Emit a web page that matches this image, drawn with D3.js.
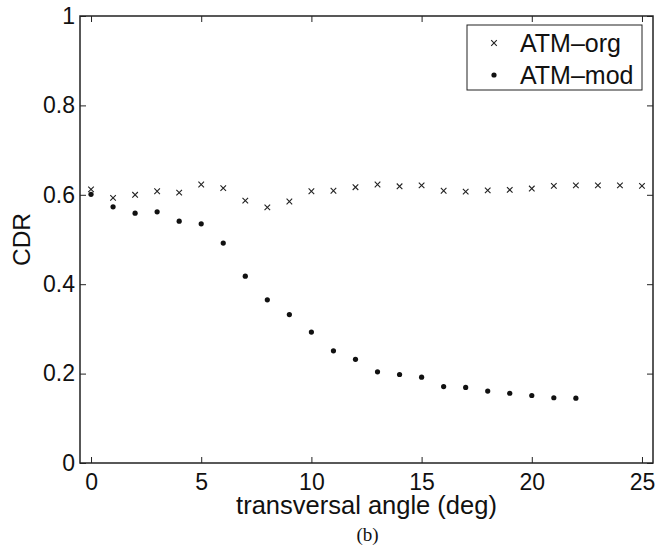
<!DOCTYPE html>
<html>
<head>
<meta charset="utf-8">
<script src="https://cdn.jsdelivr.net/npm/d3@7"></script>
<style>
  body { margin: 0; background: #fff; }
  svg { display: block; }
  text { font-family: "Liberation Sans", Arial, Helvetica, sans-serif; fill: #111; }
</style>
</head>
<body>
<svg id="chart"></svg>
<script>
// transversal angle (deg)
const angles = d3.range(0, 26);
// CDR for ATM-org (crosses), one per angle 0..25
const atmOrg = [0.612, 0.593, 0.600, 0.608, 0.605, 0.623, 0.615, 0.587, 0.572, 0.585,
  0.608, 0.609, 0.617, 0.623, 0.619, 0.621, 0.609, 0.607, 0.610, 0.611,
  0.614, 0.620, 0.621, 0.621, 0.621, 0.620];
// CDR for ATM-mod (dots), angles 0..22
const atmMod = [0.601, 0.573, 0.559, 0.562, 0.541, 0.535, 0.492, 0.418, 0.365, 0.332,
  0.293, 0.251, 0.232, 0.204, 0.198, 0.192, 0.171, 0.169, 0.161, 0.156,
  0.151, 0.146, 0.145];
const xTicks = [0, 5, 10, 15, 20, 25];
const yTicks = [0, 0.2, 0.4, 0.6, 0.8, 1];
const seriesNames = ["ATM\u2013org", "ATM\u2013mod"];

const svgWidth = 656;
const svgHeight = 551;
const margin = { top: 16, right: 3, bottom: 88, left: 80 };
const width = svgWidth - margin.left - margin.right;
const height = svgHeight - margin.top - margin.bottom;

const svg = d3.select("#chart")
  .attr("width", svgWidth)
  .attr("height", svgHeight);

const g = svg.append("g")
  .attr("transform", "translate(" + margin.left + "," + margin.top + ")");

const x = d3.scaleLinear().domain([-0.5, 25.5]).range([0, width]);
const y = d3.scaleLinear().domain([0, 1]).range([height, 0]);

const tickLen = 6;
const yFmt = (d) => String(+d.toFixed(1));

// bottom axis with labels
const xAxis = g.append("g")
  .attr("transform", "translate(0," + height + ")")
  .call(d3.axisBottom(x).tickValues(xTicks).tickSize(-tickLen).tickPadding(11));
// top axis, ticks only
const xTop = g.append("g")
  .call(d3.axisTop(x).tickValues(xTicks).tickSize(-tickLen).tickFormat(""));
// left axis with labels
const yAxis = g.append("g")
  .call(d3.axisLeft(y).tickValues(yTicks).tickSize(-tickLen).tickPadding(5).tickFormat(yFmt));
// right axis, ticks only
const yRight = g.append("g")
  .attr("transform", "translate(" + width + ",0)")
  .call(d3.axisRight(y).tickValues(yTicks).tickSize(-tickLen).tickFormat(""));

[xAxis, xTop, yAxis, yRight].forEach((a) => {
  a.select(".domain").remove();
  a.selectAll(".tick line").attr("stroke", "#222").attr("stroke-width", 1);
});
xAxis.selectAll(".tick text").attr("font-size", 23).style("fill", "#111");
yAxis.selectAll(".tick text").attr("font-size", 23).style("fill", "#111");

// box
g.append("rect")
  .attr("x", 0).attr("y", 0)
  .attr("width", width).attr("height", height)
  .attr("fill", "none")
  .attr("stroke", "#222")
  .attr("stroke-width", 1.5);

// cross marker
function cross(sel, s) {
  sel.append("path")
    .attr("d", "M" + -s + "," + -s + "L" + s + "," + s + "M" + -s + "," + s + "L" + s + "," + -s)
    .attr("stroke", "#222")
    .attr("stroke-width", 1.1)
    .attr("fill", "none");
}

const orgData = atmOrg.map((v, i) => ({ a: angles[i], v: v }));
const modData = atmMod.map((v, i) => ({ a: angles[i], v: v }));

g.selectAll(".org")
  .data(orgData)
  .enter()
  .append("g")
  .attr("class", "org")
  .attr("transform", (d) => "translate(" + x(d.a) + "," + y(d.v) + ")")
  .each(function () { cross(d3.select(this), 2.8); });

g.selectAll(".mod")
  .data(modData)
  .enter()
  .append("circle")
  .attr("class", "mod")
  .attr("cx", (d) => x(d.a))
  .attr("cy", (d) => y(d.v))
  .attr("r", 2.6)
  .attr("fill", "#111");

// legend
const legend = svg.append("g").attr("transform", "translate(467,25)");
legend.append("rect")
  .attr("width", 175).attr("height", 65)
  .attr("fill", "#fff")
  .attr("stroke", "#222")
  .attr("stroke-width", 1);
const lg0 = legend.append("g").attr("transform", "translate(27,18)");
cross(lg0, 2.8);
legend.append("circle").attr("cx", 27).attr("cy", 50).attr("r", 2.6).attr("fill", "#111");
legend.selectAll(".lbl")
  .data(seriesNames)
  .enter()
  .append("text")
  .attr("class", "lbl")
  .attr("x", 53)
  .attr("y", (d, i) => 27 + i * 32)
  .attr("font-size", 25)
  .text((d) => d);

// axis titles
svg.append("text")
  .attr("x", margin.left + width / 2)
  .attr("y", 514)
  .attr("text-anchor", "middle")
  .attr("font-size", 25.5)
  .text("transversal angle (deg)");

svg.append("text")
  .attr("transform", "rotate(-90)")
  .attr("x", -(margin.top + height / 2))
  .attr("y", 30)
  .attr("text-anchor", "middle")
  .attr("font-size", 24.5)
  .text("CDR");

svg.append("text")
  .attr("x", margin.left + width / 2 + 1)
  .attr("y", 541)
  .attr("text-anchor", "middle")
  .attr("font-size", 19)
  .style("font-family", "'Liberation Serif', 'DejaVu Serif', serif")
  .text("(b)");
</script>
</body>
</html>
